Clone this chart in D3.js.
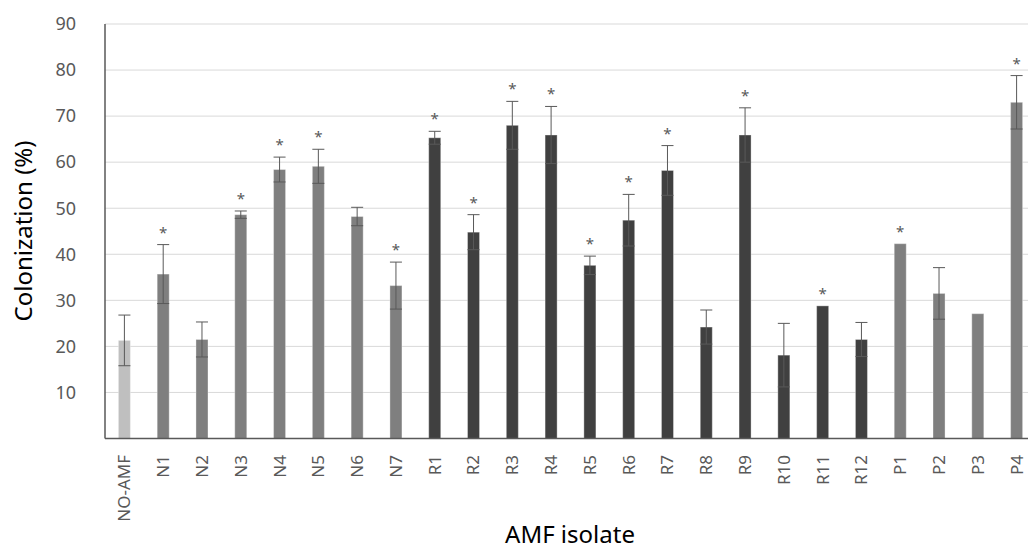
<!DOCTYPE html>
<html>
<head>
<meta charset="utf-8">
<script src="https://cdn.jsdelivr.net/npm/d3@7"></script>
<style>
  body { margin: 0; background: #fff; }
  svg { display: block; font-family: "Noto Sans", "Open Sans", sans-serif; }
</style>
</head>
<body>
<svg id="chart" width="1028" height="550"></svg>
<script>
// isolates and their group (control / N / R / P)
const isolates = ['NO-AMF', 'N1', 'N2', 'N3', 'N4', 'N5', 'N6', 'N7',
    'R1', 'R2', 'R3', 'R4', 'R5', 'R6', 'R7', 'R8', 'R9', 'R10', 'R11', 'R12',
    'P1', 'P2', 'P3', 'P4'];
const groups = ['C', 'N', 'N', 'N', 'N', 'N', 'N', 'N',
    'R', 'R', 'R', 'R', 'R', 'R', 'R', 'R', 'R', 'R', 'R', 'R',
    'P', 'P', 'P', 'P'];
const colonization = [21.3, 35.7, 21.5, 48.6, 58.4, 59.1, 48.2, 33.2,
    65.3, 44.8, 68.0, 65.9, 37.6, 47.4, 58.2, 24.2, 65.9, 18.1, 28.8, 21.5,
    42.3, 31.5, 27.1, 73.0];
const stdDev = [5.5, 6.4, 3.8, 0.8, 2.7, 3.7, 2.0, 5.1,
    1.4, 3.8, 5.2, 6.2, 2.0, 5.6, 5.4, 3.7, 5.9, 6.9, 0, 3.7,
    0, 5.6, 0, 5.8];
const significant = [false, true, false, true, true, true, false, true,
    true, true, true, true, true, true, true, false, true, false, true, false,
    true, false, false, true];
const yTicks = [10, 20, 30, 40, 50, 60, 70, 80, 90];

const groupColor = { C: '#bfbfbf', N: '#7f7f7f', R: '#404040', P: '#7f7f7f' };

const data = isolates.map((name, i) => ({
    name,
    group: groups[i],
    value: colonization[i],
    sd: stdDev[i],
    sig: significant[i]
}));

const svg = d3.select('#chart');
const plotLeft = 105, plotTop = 24, plotBottom = 438.5, plotRight = 1036;

const x = d3.scaleBand()
    .domain(isolates)
    .range([plotLeft, plotRight])
    .paddingInner(0.69)
    .paddingOuter(0.345);

const y = d3.scaleLinear()
    .domain([0, 90])
    .range([plotBottom, plotTop]);

// gridlines
svg.append('g')
    .selectAll('line')
    .data(yTicks)
    .join('line')
    .attr('x1', plotLeft)
    .attr('x2', 1028)
    .attr('y1', d => y(d))
    .attr('y2', d => y(d))
    .attr('stroke', '#d9d9d9')
    .attr('stroke-width', 1);

// y tick labels
svg.append('g')
    .selectAll('text')
    .data(yTicks)
    .join('text')
    .attr('x', 76)
    .attr('y', d => y(d))
    .attr('dy', '0.35em')
    .attr('text-anchor', 'end')
    .attr('font-size', 18)
    .attr('fill', '#595959')
    .text(d => d);

// bars
svg.append('g')
    .selectAll('rect')
    .data(data)
    .join('rect')
    .attr('x', d => x(d.name))
    .attr('y', d => y(d.value))
    .attr('width', x.bandwidth())
    .attr('height', d => y(0) - y(d.value))
    .attr('fill', d => groupColor[d.group])
    .attr('stroke', '#ffffff')
    .attr('stroke-opacity', 0.35)
    .attr('stroke-width', 1);

// error bars
const err = svg.append('g')
    .attr('stroke', '#595959')
    .attr('stroke-width', 1)
    .selectAll('g')
    .data(data.filter(d => d.sd > 0))
    .join('g');

err.append('line')
    .attr('x1', d => x(d.name) + x.bandwidth() / 2)
    .attr('x2', d => x(d.name) + x.bandwidth() / 2)
    .attr('y1', d => y(d.value - d.sd))
    .attr('y2', d => y(d.value + d.sd));
err.append('line')
    .attr('x1', d => x(d.name))
    .attr('x2', d => x(d.name) + x.bandwidth())
    .attr('y1', d => y(d.value + d.sd))
    .attr('y2', d => y(d.value + d.sd));
err.append('line')
    .attr('x1', d => x(d.name))
    .attr('x2', d => x(d.name) + x.bandwidth())
    .attr('y1', d => y(d.value - d.sd))
    .attr('y2', d => y(d.value - d.sd));

// significance asterisks
svg.append('g')
    .selectAll('text')
    .data(data.filter(d => d.sig))
    .join('text')
    .attr('x', d => x(d.name) + x.bandwidth() / 2)
    .attr('y', d => y(d.value + d.sd) - 7)
    .attr('text-anchor', 'middle')
    .attr('font-size', 15)
    .attr('fill', '#595959')
    .text('*');

// axes lines
svg.append('line')
    .attr('x1', plotLeft).attr('x2', plotLeft)
    .attr('y1', plotTop).attr('y2', plotBottom)
    .attr('stroke', '#595959').attr('stroke-width', 1.5);
svg.append('line')
    .attr('x1', plotLeft).attr('x2', 1028)
    .attr('y1', plotBottom).attr('y2', plotBottom)
    .attr('stroke', '#595959').attr('stroke-width', 1.5);

// x tick labels (rotated)
svg.append('g')
    .selectAll('text')
    .data(isolates)
    .join('text')
    .attr('transform', d => `translate(${x(d) + x.bandwidth() / 2},455) rotate(-90)`)
    .attr('text-anchor', 'end')
    .attr('dy', '0.35em')
    .attr('font-size', 17)
    .attr('fill', '#595959')
    .text(d => d);

// axis titles
svg.append('text')
    .attr('transform', 'translate(24,231) rotate(-90)')
    .attr('text-anchor', 'middle')
    .attr('dy', '0.35em')
    .attr('font-size', 24)
    .attr('fill', '#000')
    .text('Colonization (%)');

svg.append('text')
    .attr('x', 570)
    .attr('y', 543)
    .attr('text-anchor', 'middle')
    .attr('font-size', 24)
    .attr('fill', '#000')
    .text('AMF isolate');
</script>
</body>
</html>
